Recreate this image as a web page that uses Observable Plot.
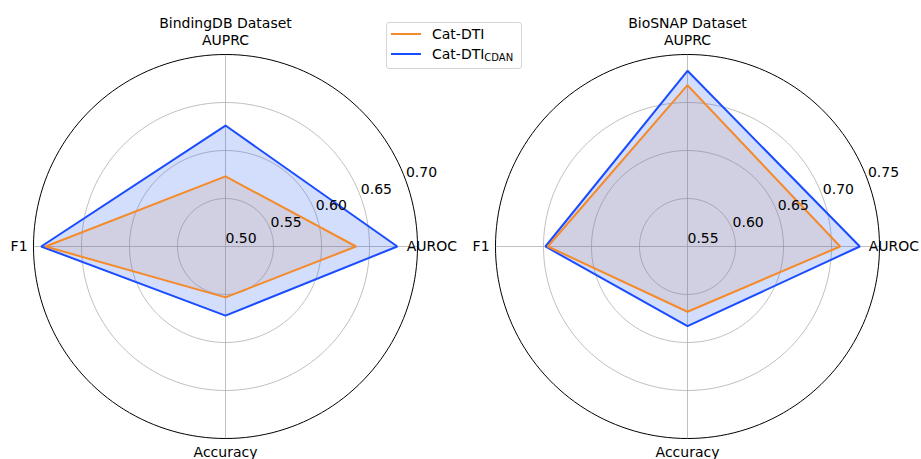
<!DOCTYPE html>
<html>
<head>
<meta charset="utf-8">
<script src="https://cdn.jsdelivr.net/npm/d3@7"></script>
<script src="https://cdn.jsdelivr.net/npm/@observablehq/plot@0.6"></script>
<style>
  html, body { margin: 0; padding: 0; background: #fff; }
  #wrap { position: relative; width: 921px; height: 459px; font-family: "DejaVu Sans", sans-serif; }
  #left { position: absolute; left: 0; top: 0; }
  #right { position: absolute; left: 460px; top: 0; }
  #legend { position: absolute; left: 386px; top: 22px; width: 134px; height: 45px;
            border: 1px solid #d6d6d6; border-radius: 3px; background: rgba(255,255,255,0.85);
            font-size: 14px; color: #000; }
  .item { position: absolute; left: 4px; height: 20px; display: flex; align-items: center; }
  .swatch { width: 30px; height: 0; border-top: 2px solid; margin-right: 11px; }
  sub { font-size: 10px; vertical-align: -2px; }
</style>
</head>
<body>
<div id="wrap">
  <div id="left"></div>
  <div id="right"></div>
  <div id="legend">
    <div class="item" style="top:1px"><span class="swatch" id="sw1"></span><span>Cat-DTI</span></div>
    <div class="item" style="top:21px"><span class="swatch" id="sw2"></span><span>Cat-DTI<sub>CDAN</sub></span></div>
  </div>
</div>
<script>
// ---- data ----
const metrics = ["AUROC", "AUPRC", "F1", "Accuracy"];
const seriesNames = ["Cat-DTI", "Cat-DTI_CDAN"];
const bindingTitle = "BindingDB Dataset";
const biosnapTitle = "BioSNAP Dataset";
const bindingCatDTI = [0.636, 0.573, 0.6875, 0.553];
const bindingCDAN   = [0.679, 0.626, 0.692, 0.572];
const biosnapCatDTI = [0.709, 0.718, 0.6955, 0.618];
const biosnapCDAN   = [0.7295, 0.733, 0.698, 0.633];
const bindingTicks = [0.50, 0.55, 0.60, 0.65, 0.70];
const biosnapTicks = [0.55, 0.60, 0.65, 0.70, 0.75];

const ORANGE = "#f48a2a";
const BLUE = "#1a4cff";
document.getElementById("sw1").style.borderColor = ORANGE;
document.getElementById("sw2").style.borderColor = BLUE;

const R = 192;
function panel(title, ticks, catVals, cdanVals, width, cx, cy) {
  const rmin = ticks[0], rmax = ticks[ticks.length - 1];
  const norm = v => (v - rmin) / (rmax - rmin);
  const ang = i => i * Math.PI / 2;
  const poly = vals => vals.map((v, i) => ({metric: metrics[i], value: v,
      x: norm(v) * Math.cos(ang(i)), y: norm(v) * Math.sin(ang(i))}));
  const ringPts = [];
  ticks.slice(1).forEach(t => {
    for (let a = 0; a <= 360; a += 2) {
      const th = a * Math.PI / 180;
      ringPts.push({tick: t, x: norm(t) * Math.cos(th), y: norm(t) * Math.sin(th)});
    }
  });
  const gridRings = ringPts.filter(d => d.tick !== rmax);
  const outerRing = ringPts.filter(d => d.tick === rmax);
  const spokes = metrics.map((m, i) => ({metric: m, x: Math.cos(ang(i)), y: Math.sin(ang(i))}));
  const labA = 20 * Math.PI / 180;
  const tickLabels = ticks.map(t => ({label: t.toFixed(2),
      x: norm(t) * Math.cos(labA), y: norm(t) * Math.sin(labA)}));
  const axisLabels = metrics.map((m, i) => ({metric: m,
      x: 1.075 * Math.cos(ang(i)), y: 1.075 * Math.sin(ang(i))}));
  const cat = poly(catVals), cdan = poly(cdanVals);
  return Plot.plot({
    width, height: 459,
    margin: 0,
    style: {fontFamily: "DejaVu Sans", fontSize: "14px", overflow: "visible", background: "transparent"},
    x: {domain: [-1, 1], range: [cx - R, cx + R], axis: null},
    y: {domain: [-1, 1], range: [cy + R, cy - R], axis: null},
    marks: [
      Plot.line(gridRings, {x: "x", y: "y", z: "tick", stroke: "#b0b0b0", strokeWidth: 0.8}),
      Plot.link(spokes, {x1: 0, y1: 0, x2: "x", y2: "y", stroke: "#b0b0b0", strokeWidth: 0.8}),
      Plot.line(cat, {x: "x", y: "y", curve: "linear-closed", fill: ORANGE, fillOpacity: 0.15, stroke: "none"}),
      Plot.line(cdan, {x: "x", y: "y", curve: "linear-closed", fill: "#2458f0", fillOpacity: 0.2, stroke: "none"}),
      Plot.line(outerRing, {x: "x", y: "y", stroke: "black", strokeWidth: 1}),
      Plot.line(cdan, {x: "x", y: "y", curve: "linear-closed", stroke: BLUE, strokeWidth: 2, strokeLinejoin: "miter"}),
      Plot.line(cat, {x: "x", y: "y", curve: "linear-closed", stroke: ORANGE, strokeWidth: 2, strokeLinejoin: "miter"}),
      Plot.text(tickLabels, {x: "x", y: "y", text: "label", textAnchor: "start", dy: -8, fill: "black"}),
      Plot.text(axisLabels, {x: "x", y: "y", text: "metric", fill: "black"}),
      Plot.text([title], {x: 0, y: 1.075, text: d => d, dy: -17, fill: "black"})
    ]
  });
}

document.getElementById("left").append(panel(bindingTitle, bindingTicks, bindingCatDTI, bindingCDAN, 460, 225, 246));
document.getElementById("right").append(panel(biosnapTitle, biosnapTicks, biosnapCatDTI, biosnapCDAN, 461, 227, 246));
</script>
</body>
</html>
